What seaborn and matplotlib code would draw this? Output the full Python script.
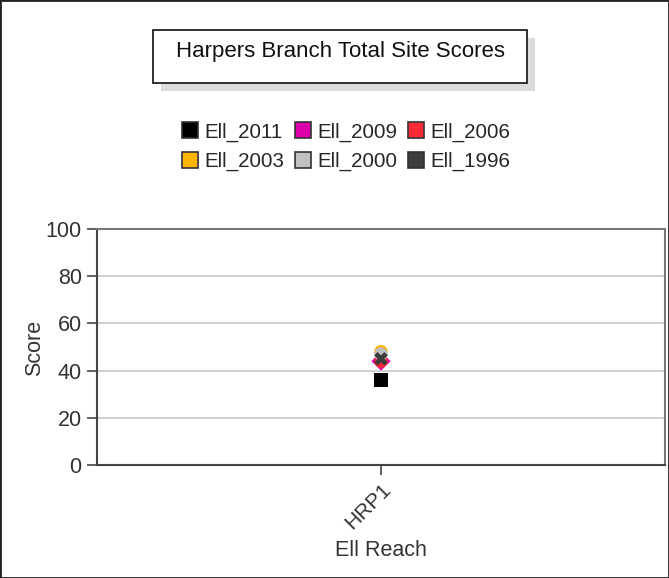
import matplotlib
matplotlib.use("Agg")
import matplotlib.pyplot as plt
from matplotlib.patches import Rectangle
from matplotlib.lines import Line2D
import seaborn as sns
import pandas as pd

# ---- data ----
reaches = ["HRP1"]
years = ["Ell_2011", "Ell_2009", "Ell_2006", "Ell_2003", "Ell_2000", "Ell_1996"]
scores = [36, 44, 44, 48, 47, 45]
colors = ["#000000", "#dd00aa", "#ff2a35", "#ffb400", "#c0c0c0", "#3c3c3c"]
markers = ["s", "D", "o", "o", "o", "X"]
title = "Harpers Branch Total Site Scores"
yticks = [0, 20, 40, 60, 80, 100]

df = pd.DataFrame({"reach": reaches * len(years), "year": years, "score": scores})

sns.set_theme(style="white")
plt.rcParams["font.family"] = ["Liberation Sans", "DejaVu Sans"]
FS = 15.5

fig = plt.figure(figsize=(6.69, 5.78), dpi=100)
W, H = 669, 578
ax = fig.add_axes([97 / W, 1 - 465 / H, (665 - 97) / W, (465 - 229) / H])

sns.scatterplot(data=df, x="reach", y="score", hue="year", style="year",
                palette=dict(zip(years, colors)), markers=dict(zip(years, markers)),
                hue_order=years, style_order=years,
                s=95, edgecolor="none", ax=ax, legend=False, zorder=3)

ax.set_xlim(-1, 1)
ax.set_ylim(0, 100)
ax.set_yticks(yticks)
ax.set_yticklabels([str(t) for t in yticks], fontsize=FS, color="#333333")
ax.set_xticks([0])
ax.set_xticklabels(reaches, rotation=45, ha="right", va="top",
                   rotation_mode="anchor", fontsize=FS - 0.5, color="#333333")
ax.tick_params(axis="both", direction="out", length=7, width=1.2, color="#444444",
               left=True, bottom=True, pad=4)
ax.yaxis.grid(True, color="#c8c8c8", linewidth=1.2)
ax.set_axisbelow(True)
for side in ["left", "bottom"]:
    ax.spines[side].set_color("#444444")
    ax.spines[side].set_linewidth(1.5)
for side in ["top", "right"]:
    ax.spines[side].set_color("#777777")
    ax.spines[side].set_linewidth(1.5)
ax.set_xlabel("")
ax.set_ylabel("")
fig.text(35 / W, 1 - 348 / H, "Score", rotation=90, ha="center", va="center",
         fontsize=FS, color="#333333")
fig.text(381 / W, 1 - 551 / H, "Ell Reach", ha="center", va="center",
         fontsize=FS, color="#333333")

# title box with shadow
bx0, bx1, by0, by1 = 153, 527, 30, 83
fig.patches.append(Rectangle(((bx0 + 8) / W, 1 - (by1 + 8) / H), (bx1 - bx0) / W,
                             (by1 - by0) / H, transform=fig.transFigure,
                             facecolor="#dcdcdc", edgecolor="none", zorder=1))
fig.patches.append(Rectangle((bx0 / W, 1 - by1 / H), (bx1 - bx0) / W,
                             (by1 - by0) / H, transform=fig.transFigure,
                             facecolor="white", edgecolor="#222222", linewidth=1.3,
                             zorder=2))
fig.text((bx0 + bx1) / 2 / W, 1 - 51 / H, title, ha="center", va="center",
         fontsize=FS + 0.5, color="#111111", zorder=3)

# legend (row-major order for a 3-column, 2-row layout)
handles = [Line2D([], [], marker="s", linestyle="none", markersize=11,
                  markerfacecolor=c, markeredgecolor="#333333", markeredgewidth=1.2)
           for c in colors]
order = [0, 3, 1, 4, 2, 5]
fig.legend([handles[i] for i in order], [years[i] for i in order], ncol=3,
           loc="center", bbox_to_anchor=(346 / W, 1 - 147 / H),
           frameon=False, fontsize=14.8, handlelength=0.8, handletextpad=0.3,
           columnspacing=0.5, labelspacing=0.5, borderpad=0)

# outer frame
fig.patches.append(Rectangle((0, 0), 1, 1, transform=fig.transFigure,
                             facecolor="none", edgecolor="#222222", linewidth=2,
                             zorder=10))

fig.savefig("out.png", dpi=100)
